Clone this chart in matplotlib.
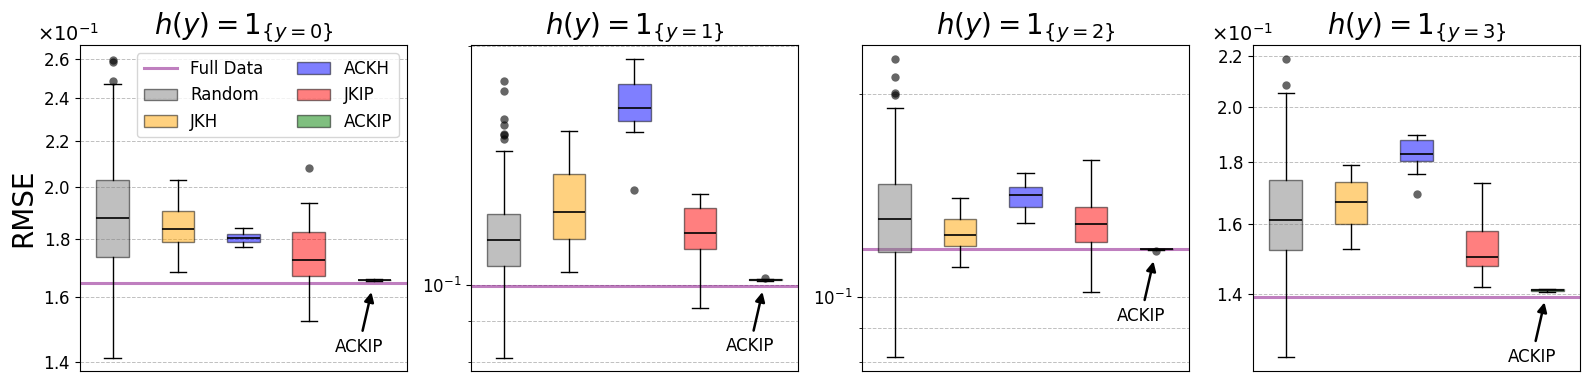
import matplotlib
matplotlib.use('Agg')
import matplotlib.pyplot as plt
from matplotlib.patches import Patch
from matplotlib.lines import Line2D
from matplotlib.ticker import ScalarFormatter, FixedLocator, NullLocator, NullFormatter

# methods and colours
methods = ['Random', 'JKH', 'ACKH', 'JKIP', 'ACKIP']
colors = ['gray', 'orange', 'blue', 'red', 'green']

titles = [r'$h(y) = 1_{\{y=0\}}$', r'$h(y) = 1_{\{y=1\}}$',
          r'$h(y) = 1_{\{y=2\}}$', r'$h(y) = 1_{\{y=3\}}$']

# ---- h(y) = 1{y=0} ----
whislo_0 = [0.1413, 0.1682, 0.1772, 0.1524, 0.1654]
q1_0 = [0.1734, 0.1788, 0.1788, 0.1668, 0.1655]
med_0 = [0.1878, 0.1836, 0.1804, 0.1723, 0.1656]
q3_0 = [0.2030, 0.1907, 0.1819, 0.1825, 0.1657]
whishi_0 = [0.2469, 0.2030, 0.1843, 0.1937, 0.1658]
fliers_0 = [[0.2596, 0.2583, 0.2485], [], [], [0.2079], []]
full_0 = 0.1646

# ---- h(y) = 1{y=1} ----
whislo_1 = [0.0810, 0.1038, 0.1559, 0.0935, 0.1012]
q1_1 = [0.1057, 0.1142, 0.1609, 0.1110, 0.1013]
med_1 = [0.1140, 0.1236, 0.1672, 0.1162, 0.1015]
q3_1 = [0.1227, 0.1380, 0.1790, 0.1248, 0.1016]
whishi_1 = [0.1475, 0.1564, 0.1927, 0.1303, 0.1017]
fliers_1 = [[0.1808, 0.1756, 0.1620, 0.1588, 0.1548, 0.1545, 0.1528], [], [0.1317], [], [0.1021]]
full_1 = 0.0997

# ---- h(y) = 1{y=2} ----
whislo_2 = [0.0813, 0.1106, 0.1285, 0.1015, 0.1174]
q1_2 = [0.1163, 0.1188, 0.1357, 0.1204, 0.1175]
med_2 = [0.1302, 0.1233, 0.1413, 0.1280, 0.1176]
q3_2 = [0.1470, 0.1305, 0.1455, 0.1359, 0.1177]
whishi_2 = [0.1901, 0.1399, 0.1526, 0.1596, 0.1178]
fliers_2 = [[0.2248, 0.2114, 0.2001, 0.1990], [], [], [], [0.1170]]
full_2 = 0.1176

# ---- h(y) = 1{y=3} ----
whislo_3 = [0.1242, 0.1527, 0.1759, 0.1419, 0.1406]
q1_3 = [0.1523, 0.1599, 0.1802, 0.1477, 0.1409]
med_3 = [0.1611, 0.1667, 0.1827, 0.1502, 0.1411]
q3_3 = [0.1738, 0.1734, 0.1875, 0.1579, 0.1413]
whishi_3 = [0.2051, 0.1790, 0.1893, 0.1729, 0.1415]
fliers_3 = [[0.2187, 0.2083], [], [0.1693], [], []]
full_3 = 0.1394

panels = [
    (whislo_0, q1_0, med_0, q3_0, whishi_0, fliers_0, full_0),
    (whislo_1, q1_1, med_1, q3_1, whishi_1, fliers_1, full_1),
    (whislo_2, q1_2, med_2, q3_2, whishi_2, fliers_2, full_2),
    (whislo_3, q1_3, med_3, q3_3, whishi_3, fliers_3, full_3),
]

ylims = [(0.1375, 0.2675), (0.0779, 0.2005), (0.0776, 0.2360), (0.1210, 0.2248)]
scalar_ticks = [[0.14, 0.16, 0.18, 0.20, 0.22, 0.24, 0.26], None, None,
                [0.14, 0.16, 0.18, 0.20, 0.22]]

fig, axes = plt.subplots(1, 4, figsize=(15.9, 3.83), dpi=100)
fig.subplots_adjust(left=0.0503, right=0.9937, top=0.8825, bottom=0.0313, wspace=0.196)

for i, ax in enumerate(axes):
    whislo, q1, med, q3, whishi, fliers, full = panels[i]
    stats = []
    for j in range(len(methods)):
        stats.append(dict(label=methods[j], whislo=whislo[j], q1=q1[j], med=med[j],
                          q3=q3[j], whishi=whishi[j], fliers=fliers[j]))

    ax.set_yscale('log')
    ax.axhline(full, color='purple', alpha=0.5, linewidth=2.2, zorder=1)

    bp = ax.bxp(stats, positions=range(1, 6), widths=0.5, patch_artist=True,
                showfliers=True,
                medianprops=dict(color='black', linewidth=1.2),
                whiskerprops=dict(color='black', linewidth=1),
                capprops=dict(color='black', linewidth=1),
                flierprops=dict(marker='o', markerfacecolor='black',
                                markeredgecolor='none', alpha=0.6, markersize=6))
    for patch, c in zip(bp['boxes'], colors):
        patch.set_facecolor(c)
        patch.set_edgecolor('black')
        patch.set_alpha(0.5)

    ax.set_xlim(0.5, 5.5)
    ax.set_ylim(*ylims[i])
    ax.set_xticks([])
    ax.tick_params(axis='y', which='both', labelsize=12)

    if scalar_ticks[i] is not None:
        ax.yaxis.set_major_locator(FixedLocator(scalar_ticks[i]))
        ax.yaxis.set_minor_locator(NullLocator())
        fmt = ScalarFormatter(useMathText=True)
        fmt.set_powerlimits((0, 0))
        ax.yaxis.set_major_formatter(fmt)
        off = ax.yaxis.get_offset_text()
        off.set_fontsize(14)
        off.set_horizontalalignment('left')
        off.set_x(-0.13)
    else:
        ax.yaxis.set_minor_formatter(NullFormatter())

    ax.grid(True, axis='y', which='both', linestyle='--', color='gray', alpha=0.5, linewidth=0.7)
    ax.set_axisbelow(True)
    ax.set_title(titles[i], fontsize=20)

    ax.annotate('ACKIP', xy=(5, med[4]), xycoords='data',
                xytext=(-11, -48), textcoords='offset points',
                ha='center', va='center', fontsize=12,
                arrowprops=dict(arrowstyle='-|>', color='black', lw=1.8,
                                mutation_scale=14, shrinkA=3, shrinkB=9))

axes[0].set_ylabel('RMSE', fontsize=20)

handles = [Line2D([0], [0], color='purple', alpha=0.5, linewidth=2.2, label='Full Data')]
for m, c in zip(methods, colors):
    handles.append(Patch(facecolor=c, edgecolor='black', alpha=0.5, label=m))
axes[0].legend(handles=handles, loc='upper right', ncol=2, fontsize=12)

plt.savefig('out.png', dpi=100)
